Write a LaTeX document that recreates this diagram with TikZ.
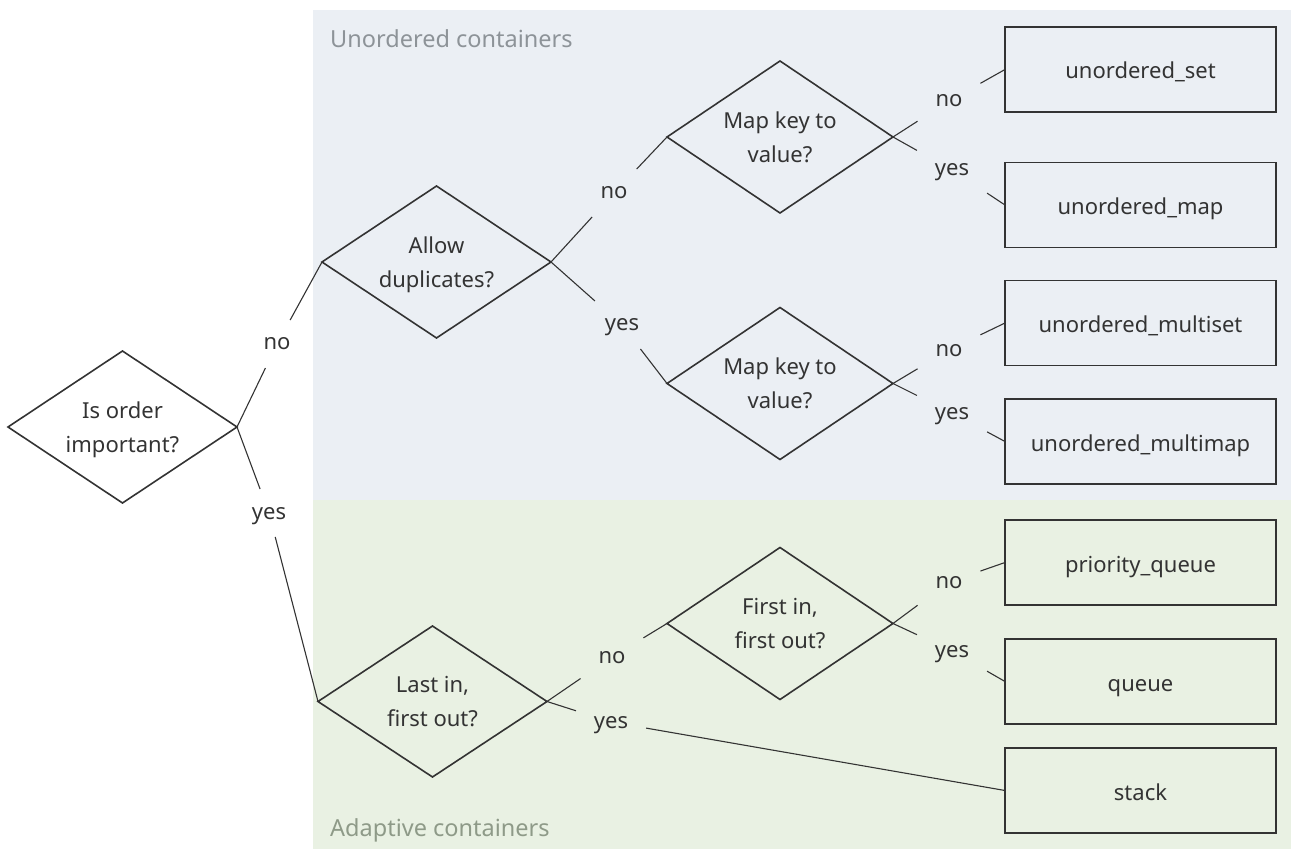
\documentclass[tikz,border=0pt]{standalone}
\usepackage{fontspec}
\setmainfont{Noto Sans}
\usetikzlibrary{shapes.geometric}
\definecolor{ink}{HTML}{333333}
\definecolor{unordbg}{HTML}{EBEFF4}
\definecolor{adaptbg}{HTML}{E9F1E3}
\definecolor{unordtxt}{HTML}{8D9398}
\definecolor{adapttxt}{HTML}{8E9A88}
\begin{document}
\begin{tikzpicture}[x=1pt,y=-1pt,
  every node/.style={font=\fontsize{22}{34}\selectfont, text=ink},
  decision/.style={diamond, draw=ink, line width=1.6pt, inner sep=0pt, outer sep=0pt,
    shape aspect=1.5, minimum width=229pt, minimum height=152pt, align=center,
    text depth=0pt},
  leaf/.style={rectangle, draw=ink, line width=1.6pt, outer sep=0pt,
    minimum width=271pt, minimum height=85pt, text height=19pt, text depth=0pt},
  branch/.style={inner xsep=18pt, inner ysep=18pt, outer sep=0pt,
    text height=12pt, text depth=0pt},
  link/.style={draw=ink, line width=1.1pt},
  grouptitle/.style={anchor=west, inner sep=0pt, font=\fontsize{23.5}{30}\selectfont}]
  \useasboundingbox (0,0) rectangle (1291,850);

  % group backgrounds
  \fill[unordbg] (313,10) rectangle (1291,500);
  \fill[adaptbg] (313,500) rectangle (1291,849);
  \node[grouptitle, text=unordtxt] (gu) at (330,39) {Unordered containers};
  \node[grouptitle, text=adapttxt] (ga) at (330,830) {Adaptive containers};

  % decisions
  \node[decision] (d1) at (122.5,427) {Is order\\important?};
  \node[decision] (d2) at (436.5,262) {Allow\\duplicates?};
  \node[decision, minimum width=226pt] (d3) at (780,137) {Map key to\\value?};
  \node[decision, minimum width=226pt] (d4) at (780,383.5) {Map key to\\value?};
  \node[decision, minimum width=226pt] (d5) at (780,623.5) {First in,\\first out?};
  \node[decision, minimum height=151pt] (d6) at (432.5,701.5) {Last in,\\first out?};

  % containers
  \node[leaf] (uset) at (1140.5,69.5) {unordered\_set};
  \node[leaf] (umap) at (1140.5,205) {unordered\_map};
  \node[leaf] (umset) at (1140.5,323) {unordered\_multiset};
  \node[leaf] (ummap) at (1140.5,441.5) {unordered\_multimap};
  \node[leaf] (pq) at (1140.5,562.5) {priority\_queue};
  \node[leaf] (qu) at (1140.5,681.5) {queue};
  \node[leaf] (st) at (1140.5,790.5) {stack};

  % branch labels
  \node[branch] (b1n) at (277,344) {no};
  \node[branch] (b1y) at (269,513) {yes};
  \node[branch] (b2n) at (614,193) {no};
  \node[branch] (b2y) at (622,325) {yes};
  \node[branch] (b3n) at (949,101) {no};
  \node[branch] (b3y) at (952,170) {yes};
  \node[branch] (b4n) at (949,350) {no};
  \node[branch] (b4y) at (952,413) {yes};
  \node[branch] (b6n) at (612,657) {no};
  \node[branch] (b6y) at (611,722) {yes};
  \node[branch] (b5n) at (949,582) {no};
  \node[branch] (b5y) at (952,651) {yes};

  % connectors
  \draw[link] (d1.east) -- (b1n) -- (d2.west);
  \draw[link] (d1.east) -- (b1y) -- (d6.west);
  \draw[link] (d2.east) -- (b2n) -- (d3.west);
  \draw[link] (d2.east) -- (b2y) -- (d4.west);
  \draw[link] (d3.east) -- (b3n) -- (uset.west);
  \draw[link] (d3.east) -- (b3y) -- (umap.west);
  \draw[link] (d4.east) -- (b4n) -- (umset.west);
  \draw[link] (d4.east) -- (b4y) -- (ummap.west);
  \draw[link] (d6.east) -- (b6n) -- (d5.west);
  \draw[link] (d6.east) -- (b6y) -- (st.west);
  \draw[link] (d5.east) -- (b5n) -- (pq.west);
  \draw[link] (d5.east) -- (b5y) -- (qu.west);
\end{tikzpicture}
\end{document}
